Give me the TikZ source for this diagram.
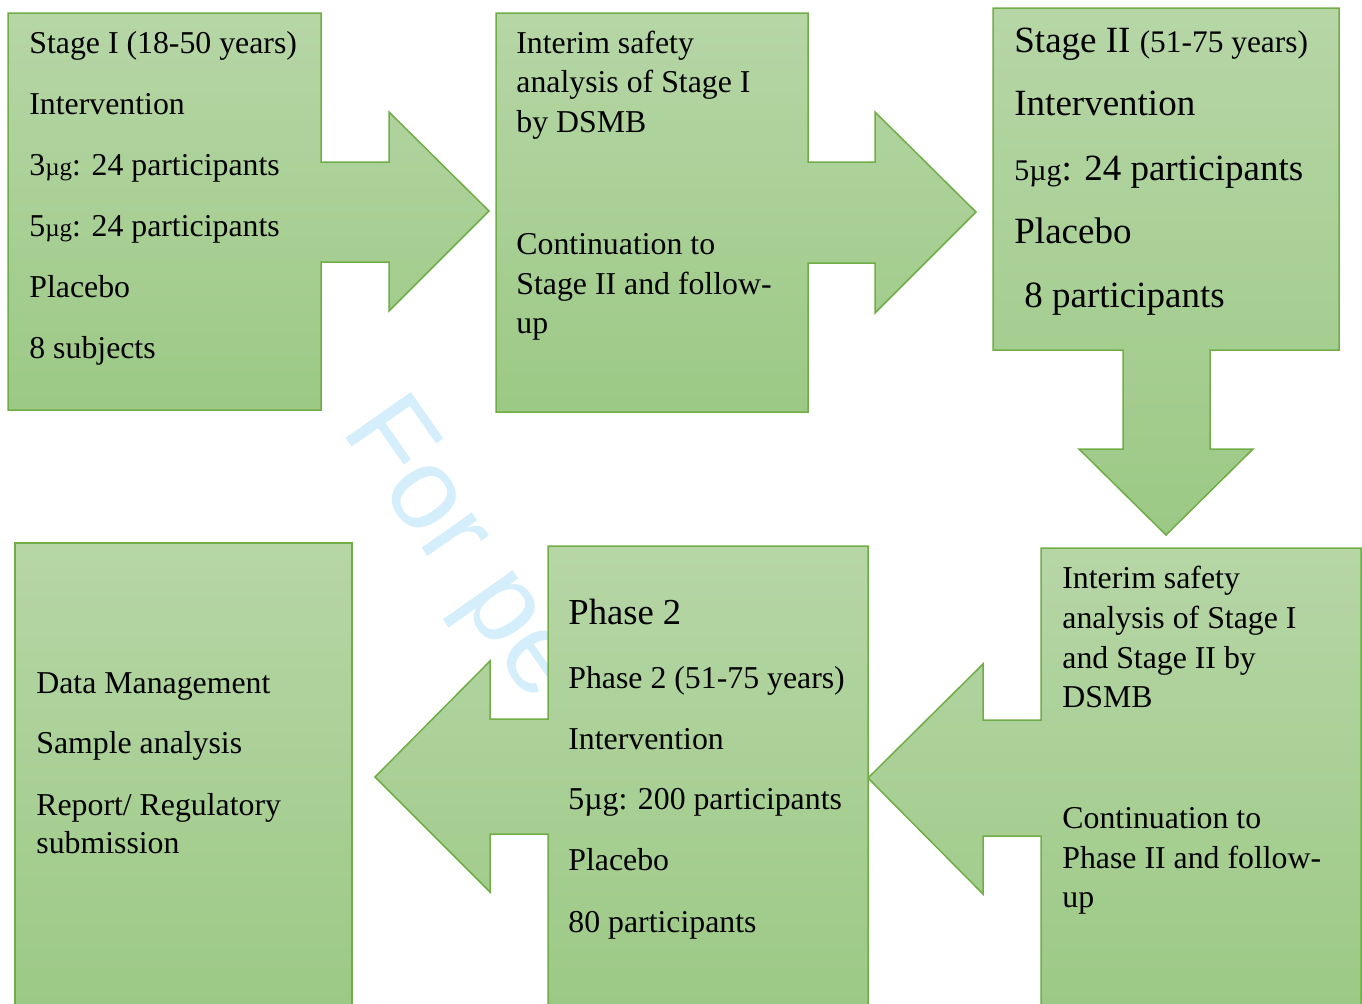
\documentclass[tikz,border=0pt]{standalone}
\usepackage{fontspec}
\setmainfont{Liberation Serif}
\newfontfamily\wmfont{Liberation Sans}
\definecolor{gtop}{RGB}{182,214,166}
\definecolor{gbot}{RGB}{156,201,133}
\definecolor{edgegreen}{RGB}{112,173,71}
\definecolor{wmblue}{RGB}{213,238,251}
\newcommand\smallmug{{\fontsize{12.5}{14}\selectfont µg}}
\newcommand\midmug{{\fontsize{15}{17}\selectfont 5µg}}
\begin{document}
\begin{tikzpicture}[x=0.5pt,y=-0.5pt,
  shp/.style={draw=edgegreen, line width=0.75pt, line join=miter, top color=gtop, bottom color=gbot},
  txt/.style={anchor=base west, inner sep=0pt, font=\fontsize{15.9}{19}\selectfont},
  big/.style={anchor=base west, inner sep=0pt, font=\fontsize{18.5}{22}\selectfont}]
\useasboundingbox (0,0) rectangle (1362,1003);
\fill[white] (0,0) rectangle (1362,1003);
\clip (0,0) rectangle (1362,1003);

% watermark
\node[anchor=base west, inner sep=0pt, rotate=-55, text=wmblue,
      font=\wmfont\fontsize{58}{60}\selectfont] (wm) at (340,430) {For pe};

% shape 1: Stage I with right arrow
\path[shp] (8,13) -- (321,13) -- (321,162) -- (389,162) -- (389,112) -- (489,211)
  -- (389,311) -- (389,262) -- (321,262) -- (321,410) -- (8,410) -- cycle;
% shape 2: interim analysis with right arrow
\path[shp] (496,13) -- (808,13) -- (808,162) -- (875,162) -- (875,112) -- (976,212)
  -- (875,313) -- (875,263) -- (808,263) -- (808,412) -- (496,412) -- cycle;
% shape 3: Stage II with down arrow
\path[shp] (993,8) -- (1339,8) -- (1339,350) -- (1210,350) -- (1210,449) -- (1253,449)
  -- (1166,535) -- (1079,449) -- (1123,449) -- (1123,350) -- (993,350) -- cycle;
% shape 4: interim analysis II with left arrow
\path[shp] (1041,548) -- (1361,548) -- (1361,1012) -- (1041,1012) -- (1041,836)
  -- (983,836) -- (983,894) -- (868,778) -- (983,664) -- (983,720) -- (1041,720) -- cycle;
% shape 5: Phase 2 with left arrow
\path[shp] (548,546) -- (868,546) -- (868,1012) -- (548,1012) -- (548,834)
  -- (490,834) -- (490,892) -- (375,777) -- (490,661) -- (490,719) -- (548,719) -- cycle;
% shape 6: data management
\path[shp] (15,543) rectangle (352,1012);

% texts box 1
\node[txt] (a1) at (29,53) {Stage I (18-50 years)};
\node[txt] (a2) at (29,114) {Intervention};
\node[txt] (a3) at (29,175) {3\smallmug: 24 participants};
\node[txt] (a4) at (29,236) {5\smallmug: 24 participants};
\node[txt] (a5) at (29,297) {Placebo};
\node[txt] (a6) at (29,358) {8 subjects};

% texts box 2
\node[txt] (b1) at (516,53) {Interim safety};
\node[txt] (b2) at (516,92) {analysis of Stage I};
\node[txt] (b3) at (516,132) {by DSMB};
\node[txt] (b4) at (516,254) {Continuation to};
\node[txt] (b5) at (516,294) {Stage II and follow-};
\node[txt] (b6) at (516,333) {up};

% texts box 3
\node[big] (c1) at (1014,52) {Stage II {\fontsize{15.7}{18}\selectfont (51-75 years)}};
\node[big] (c2) at (1014,115) {Intervention};
\node[big] (c3) at (1014,180) {\midmug: 24 participants};
\node[big] (c4) at (1014,243) {Placebo};
\node[big] (c5) at (1024,307) {8 participants};

% texts box 4
\node[txt] (d1) at (1062,588) {Interim safety};
\node[txt] (d2) at (1062,628) {analysis of Stage I};
\node[txt] (d3) at (1062,668) {and Stage II by};
\node[txt] (d4) at (1062,707) {DSMB};
\node[txt] (d5) at (1062,828) {Continuation to};
\node[txt] (d6) at (1062,868) {Phase II and follow-};
\node[txt] (d7) at (1062,907) {up};

% texts box 5
\node[anchor=base west, inner sep=0pt, font=\fontsize{18.3}{22}\selectfont] (e1) at (568,624) {Phase 2};
\node[txt] (e2) at (568,688) {Phase 2 (51-75 years)};
\node[txt] (e3) at (568,749) {Intervention};
\node[txt] (e4) at (568,809) {5µg: 200 participants};
\node[txt] (e5) at (568,870) {Placebo};
\node[txt] (e6) at (568,932) {80 participants};

% texts box 6
\node[txt] (f1) at (36,693) {Data Management};
\node[txt] (f2) at (36,753) {Sample analysis};
\node[txt] (f3) at (36,815) {Report/ Regulatory};
\node[txt] (f4) at (36,853) {submission};
\end{tikzpicture}
\end{document}
